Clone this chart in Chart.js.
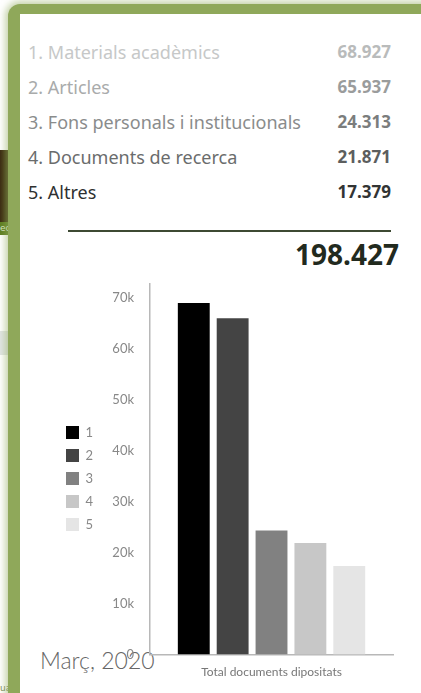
<!DOCTYPE html>
<html>
<head>
<meta charset="utf-8">
<script src="https://cdn.jsdelivr.net/npm/chart.js@4.4.1/dist/chart.umd.min.js"></script>
<style>
  html, body { margin: 0; padding: 0; width: 421px; height: 693px; overflow: hidden; background: #fff; }
  .bg { position: absolute; }
  #frame { position: absolute; left: 8px; top: 4px; width: 430px; height: 700px; background: #8fa85a;
           border-top-left-radius: 12px; box-shadow: 0 0 7px 3px rgba(150,175,100,0.55); }
  #panel { position: absolute; left: 20px; top: 14px; width: 401px; height: 679px; background: #fff; }
  .row { position: absolute; left: 28px; width: 363px; height: 24px; font-family: "Noto Sans", sans-serif; line-height: 24px; }
  .row .lbl { position: absolute; left: 0; top: 0; font-size: 18px; }
  .row .val { position: absolute; right: 0; top: 0; font-weight: bold; font-size: 17px; }
  #sep { position: absolute; left: 68px; top: 230px; width: 323px; height: 2px; background: #3d4a33; }
  #total { position: absolute; right: 22px; top: 240px; font-family: "Noto Sans", sans-serif; font-weight: bold;
           font-size: 28px; line-height: 28px; color: #222a1e; }
  #chartBox { position: absolute; left: 20px; top: 268px; width: 401px; height: 417px; }
  #date { position: absolute; left: 40px; top: 649px; font-family: Lato, sans-serif; font-weight: 300;
          font-size: 23px; line-height: 23px; color: #666; }
</style>
</head>
<body>
<div class="bg" style="left:0;top:150px;width:20px;height:73px;background:linear-gradient(90deg,#3a2810,#4a5810);"></div>
<div class="bg" style="left:0;top:222px;width:20px;height:13px;background:#5d7d20;color:#dfe8c8;font:9px 'DejaVu Sans',sans-serif;line-height:13px;white-space:nowrap;overflow:hidden;">eque</div>
<div class="bg" style="left:0;top:331px;width:20px;height:24px;background:#e2e5e5;"></div>
<div class="bg" style="left:0;top:683px;width:20px;height:10px;color:#7a8a60;font:9px 'DejaVu Sans',sans-serif;white-space:nowrap;overflow:hidden;">ual (</div>
<div id="frame"></div>
<div id="panel"></div>
<div id="list"></div>
<div id="sep"></div>
<div id="total"></div>
<div id="date">Març, 2020</div>
<div id="chartBox"><canvas id="myChart"></canvas></div>
<script>
// data
const categories = ['Materials acadèmics', 'Articles', 'Fons personals i institucionals', 'Documents de recerca', 'Altres'];
const seriesLabels = ['1', '2', '3', '4', '5'];
const values = [68927, 65937, 24313, 21871, 17379];
const xLabels = ['Total documents dipositats'];
const yTicks = [0, 10000, 20000, 30000, 40000, 50000, 60000, 70000];

const barColors = ['#000000', '#444444', '#818181', '#c7c7c7', '#e5e5e5'];
const labelColors = ['#c6c8c8', '#a9abab', '#8a8c8c', '#6a6c6c', '#2e3030'];
const valueColors = ['#b9bbbb', '#9a9c9c', '#7b7d7d', '#5c5e5e', '#323434'];
const rowTops = [40, 75, 110, 145, 180];

function fmt(n) {
    return n.toString().replace(/\B(?=(\d{3})+(?!\d))/g, '.');
}

// list on top
const list = document.getElementById('list');
categories.forEach((c, i) => {
    const row = document.createElement('div');
    row.className = 'row';
    row.style.top = rowTops[i] + 'px';
    row.innerHTML = '<span class="lbl" style="color:' + labelColors[i] + '">' + (i + 1) + '. ' + c + '</span>' +
        '<span class="val" style="color:' + valueColors[i] + '">' + fmt(values[i]) + '</span>';
    list.appendChild(row);
});
let total = 0;
for (var v of values) {
    total += v;
}
document.getElementById('total').textContent = fmt(total);

const myChartRef = document.getElementById('myChart').getContext('2d');
new Chart(myChartRef, {
    type: 'bar',
    data: {
        labels: xLabels,
        datasets: seriesLabels.map((s, i) => ({
            label: s,
            data: [values[i]],
            backgroundColor: barColors[i],
            borderWidth: 0
        }))
    },
    options: {
        responsive: true,
        maintainAspectRatio: false,
        animation: false,
        layout: { padding: { left: 36, right: 28, top: 8, bottom: 4 } },
        datasets: { bar: { categoryPercentage: 0.8, barPercentage: 0.82 } },
        plugins: {
            tooltip: { enabled: false },
            legend: {
                position: 'left',
                labels: {
                    boxWidth: 13,
                    boxHeight: 13,
                    padding: 10,
                    color: '#888',
                    font: { family: 'Lato', size: 13 }
                }
            }
        },
        scales: {
            x: {
                grid: { display: false },
                border: { display: true, color: '#b8b8b8', width: 1.5 },
                ticks: { color: '#777', font: { family: 'Lato', size: 12 }, padding: 2 }
            },
            y: {
                min: 0,
                max: 72700,
                grid: { display: false },
                border: { display: true, color: '#b8b8b8', width: 1.5 },
                afterBuildTicks: (scale) => {
                    scale.ticks = yTicks.map(t => ({ value: t }));
                },
                afterFit: (scale) => { scale.width = 47; },
                ticks: {
                    color: '#888',
                    padding: 8,
                    font: { family: 'Lato', size: 13 },
                    callback: (val) => val === 0 ? '0' : (val / 1000) + 'k'
                }
            }
        }
    }
});
</script>
</body>
</html>
